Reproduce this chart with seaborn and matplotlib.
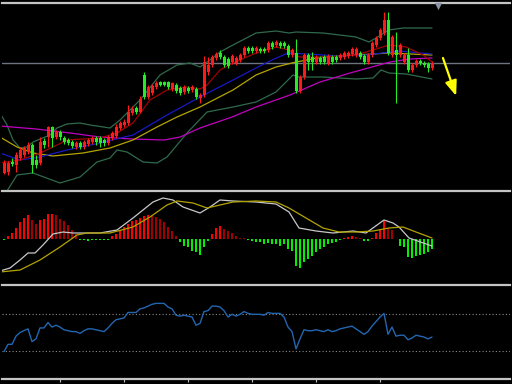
import numpy as np
import pandas as pd
import matplotlib
matplotlib.use("Agg")
import matplotlib.pyplot as plt
import seaborn as sns

# ---- candles (bar 0..107), price units ----
opens = [27, 28, 38, 35, 42, 45, 48, 55, 40, 37,
         59, 63, 73, 63, 68, 62, 60, 58, 53, 57,
         53, 56, 58, 62, 62, 60, 57, 62, 64, 72,
         75, 77, 87, 92, 88, 125, 103, 107, 113, 118,
         118, 118, 111, 115, 112, 108, 112, 110, 111, 102,
         105, 128, 135, 142, 147, 143, 141, 138, 137, 140,
         145, 152, 152, 149, 151, 151, 150, 157, 155, 157,
         157, 154, 145, 147, 109, 123, 145, 143, 138, 142,
         143, 137, 143, 143, 142, 143, 144, 146, 145, 147,
         144, 138, 145, 155, 162, 167, 180, 145, 150, 145,
         138, 145, 130, 135, 139, 137, 136, 132]
highs = [40, 39, 42, 48, 53, 54, 58, 57, 45, 63,
         62, 74, 74, 70, 70, 64, 62, 60, 59, 59,
         60, 62, 64, 64, 64, 62, 65, 69, 76, 79,
         81, 95, 94, 94, 104, 128, 115, 116, 119, 119,
         119, 119, 118, 117, 114, 115, 114, 115, 113, 107,
         144, 143, 145, 148, 150, 145, 143, 146, 144, 147,
         154, 154, 154, 154, 153, 153, 159, 159, 160, 159,
         159, 156, 152, 161, 125, 147, 147, 148, 145, 144,
         145, 146, 145, 145, 147, 149, 149, 153, 153, 149,
         146, 147, 159, 164, 172, 188, 188, 165, 168, 157,
         147, 152, 137, 141, 141, 139, 138, 139]
lows = [26, 25, 34, 28, 40, 43, 46, 27, 32, 35,
        52, 53, 53, 61, 60, 56, 55, 52, 51, 51,
        51, 54, 56, 55, 53, 54, 55, 60, 62, 70,
        73, 75, 85, 86, 87, 101, 101, 105, 111, 114,
        114, 111, 109, 107, 105, 106, 107, 108, 101, 97,
        103, 125, 133, 140, 141, 133, 132, 136, 135, 138,
        143, 147, 147, 147, 147, 147, 148, 151, 153, 152,
        152, 143, 143, 107, 107, 121, 130, 130, 136, 136,
        136, 135, 136, 138, 140, 141, 142, 144, 143, 141,
        136, 136, 143, 153, 160, 165, 145, 143, 97, 143,
        136, 128, 128, 133, 135, 133, 128, 130]
closes = [37, 37, 36, 45, 50, 52, 55, 35, 35, 58,
          55, 73, 62, 68, 63, 58, 57, 54, 57, 53,
          58, 60, 62, 58, 57, 57, 63, 67, 73, 77,
          78, 88, 91, 88, 101, 103, 113, 114, 117, 115,
          115, 113, 117, 109, 107, 113, 109, 113, 103, 105,
          138, 135, 143, 146, 143, 135, 134, 144, 142, 145,
          152, 149, 149, 152, 149, 149, 157, 153, 158, 154,
          154, 145, 150, 109, 123, 145, 138, 138, 143, 138,
          138, 144, 138, 140, 145, 147, 147, 151, 151, 143,
          138, 145, 157, 162, 170, 180, 147, 163, 145, 155,
          145, 130, 135, 139, 137, 135, 132, 137]

# ---- moving averages / bands (bar position, price) ----
ma_red_x = [-1, 4, 9, 12.25, 15.75, 24, 28.25, 32.25, 36.5, 40.75, 45.75, 49, 50.75,
            54, 57.25, 63, 68, 71.25, 73.75, 79.75, 88, 92.25, 96.25, 100.5, 104.75, 107]
ma_red_y = [37, 40, 47, 53, 60, 62, 67, 77, 100, 110, 113, 111, 115,
            130, 137, 147, 153, 150, 143, 143, 145, 150, 155, 153, 145, 138]
ma_blue_x = [-1, 4, 9, 15.75, 24, 32.25, 40.75, 49, 57.25, 63, 67, 71, 75.5, 83.75, 90.5, 98.75, 107]
ma_blue_y = [47, 40, 43, 50, 57, 65, 85, 103, 120, 132, 140, 147, 146, 144, 145, 149, 146]
ma_yellow_x = [-1, 3.25, 7.25, 12.25, 19.75, 26.5, 32.25, 38.25, 43.25, 49, 57.25,
               63, 68, 73, 79.75, 88, 96.25, 107]
ma_yellow_y = [63, 53, 47, 44, 47, 52, 60, 73, 83, 93, 110, 125, 133, 138, 143, 145, 147, 145]
ma_purple_x = [-1, 8, 16.5, 24, 32, 40, 44, 49, 57, 63, 71.5, 79, 86.5, 96.5, 101.5, 107]
ma_purple_y = [74, 71, 67, 63, 61, 60, 63, 72, 83, 93, 105, 118, 127, 138, 141, 142]
bb_up_x = [-1, 0.75, 2.25, 4, 5.75, 7.25, 11.5, 13.25, 15.75, 19, 21.5, 26.5, 29, 34, 39,
           43.25, 46.5, 49, 51.5, 54, 57.25, 63, 68, 71.25, 73, 79.75, 88, 91.25, 93,
           96.25, 99.75, 107]
bb_up_y = [87, 75, 60, 52, 53, 58, 65, 72, 76, 77, 75, 72, 80, 100, 125,
           135, 137, 133, 140, 148, 155, 167, 169, 167, 168, 167, 163, 158, 162,
           170, 172, 172]
bb_lo_x = [0.75, 3.25, 7.25, 14, 19, 23.25, 26.5, 28.25, 30.75, 34.75, 38.25, 40.75,
           45.75, 50.75, 57.25, 63, 68, 72.25, 73.75, 79.75, 88, 92.25, 94.25, 96.25,
           100.5, 107]
bb_lo_y = [9, 25, 27, 17, 23, 38, 42, 50, 48, 38, 37, 43,
           67, 88, 93, 98, 108, 125, 123, 123, 121, 122, 130, 127, 126, 121]
level_price = 137

# ---- MACD panel ----
macd_hist = [-1, 2.7, 6, 11, 17, 21, 24, 19, 15, 19,
             20, 25, 25, 24, 20, 18, 14, 9, 5, -1,
             -1, -1.5, -1, -1, -1, -1, -0.5, 2.7, 5, 8,
             12, 15, 18, 19, 21, 23, 24, 23, 22, 20,
             17, 12, 8, 3, -3, -7, -8, -12, -13, -16,
             -8, -2, 5, 11, 13, 10, 8, 6, 3, 1.3,
             1, -1, -1.5, -2.5, -3, -5, -4, -5, -5, -7,
             -5, -10, -12, -27, -29, -23, -20, -17, -13, -10,
             -8, -5, -4, -3, -1, 1, 2, 3, 2, 1,
             -1.7, -2.3, 1, 6, 10, 18, 11, 9, 0, -7,
             -8, -18, -19, -17, -16, -15, -13, -10]
macd_x = [-1, 1.5, 4, 6, 7.75, 9.75, 12.25, 14.75, 17.25, 24, 28.25, 32.25, 34.75, 37.25,
          39.75, 42.25, 44.75, 49, 51.5, 54, 57.25, 63, 68, 71.25, 73.75, 78, 82.25,
          87.25, 90.5, 95, 97.25, 98.75, 101.25, 107]
macd_y = [-32, -29, -21, -14, -14, -6, 5, 7, 6, 6, 9, 21, 29, 37,
          41, 39, 32, 26, 32, 39, 38, 37, 35, 27, 11, 8, 6,
          8, 6, 19, 16, 12, 1, -7]
signal_x = [-1, 4, 9, 14, 18.25, 20.75, 26.5, 32.25, 36.5, 40.75, 43.25, 47.25, 50.75,
            54, 57.25, 63, 68, 71.25, 75.5, 79.75, 83.75, 88, 92.25, 96.25, 99.75, 103, 107]
signal_y = [-33, -31, -21, -8, 4, 6, 6, 12, 22, 34, 38, 36, 31,
            34, 37, 38, 37, 31, 21, 11, 7, 7, 8, 11, 12, 7, 1]

# ---- RSI panel ----
rsi = [29, 37, 37, 46, 50, 52, 54, 40, 43, 55,
       55, 61, 56, 58, 56, 53, 52, 51, 51, 49,
       52, 54, 54, 53, 52, 51, 55, 60, 64, 65,
       66, 72, 72, 72, 76, 77, 79, 81, 82, 82,
       82, 78, 76, 69, 68, 69, 68, 67, 58, 60,
       73, 74, 79, 79, 78, 74, 67, 70, 68, 70,
       73, 71, 70, 70, 70, 69, 72, 71, 71, 71,
       67, 56, 51, 32, 43, 53, 52, 52, 53, 52,
       51, 53, 51, 52, 54, 55, 56, 57, 54, 51,
       48, 51, 57, 62, 67, 71, 48, 56, 46, 47,
       47, 42, 44, 47, 46, 45, 43, 45]
rsi_levels = [30, 70]
time_ticks = [14, 30, 46, 62, 78, 94]

df = pd.DataFrame({"open": opens, "high": highs, "low": lows, "close": closes,
                   "hist": macd_hist, "rsi": rsi})
df["bar"] = np.arange(len(df))

sns.set_style("dark")
plt.rcParams["axes.facecolor"] = "black"
plt.rcParams["figure.facecolor"] = "black"
plt.rcParams["patch.edgecolor"] = "none"

fig = plt.figure(figsize=(5.12, 3.84), dpi=100)


def panel(top, bot):
    ax = fig.add_axes([2 / 512, 1 - bot / 384, 508 / 512, (bot - top) / 384])
    ax.set_facecolor("black")
    ax.grid(False)
    for s in ["left", "right", "bottom"]:
        ax.spines[s].set_visible(False)
    ax.spines["top"].set_color("#c4c4c4")
    ax.spines["top"].set_linewidth(1.6)
    ax.set_xlim(-0.5, 126.5)
    ax.set_xticks([])
    ax.set_yticks([])
    return ax


ax_main = panel(3, 190)
ax_macd = panel(191, 284)
ax_rsi = panel(285, 379)
ax_main.set_ylim(10, 197)
ax_macd.set_ylim(-45, 48)
ax_rsi.set_ylim(-1.1, 102.2)

# main panel lines
for xs, ys, col in [(bb_up_x, bb_up_y, "#2f6a4c"), (bb_lo_x, bb_lo_y, "#2f6a4c"),
                    (ma_purple_x, ma_purple_y, "#c000c0"), (ma_yellow_x, ma_yellow_y, "#b4a400"),
                    (ma_blue_x, ma_blue_y, "#1818c8"), (ma_red_x, ma_red_y, "#a00000")]:
    sns.lineplot(x=xs, y=ys, ax=ax_main, color=col, lw=0.9, zorder=2)
ax_main.axhline(level_price, color="#6c7480", lw=1.0, zorder=1)

up = df["close"] >= df["open"]
cols = np.where(up, "#ff1a1a", "#22ee22")
ax_main.vlines(df["bar"], df["low"], df["high"], colors=cols, lw=0.8, zorder=3)
body = (df["close"] - df["open"]).abs().clip(lower=0.8)
ax_main.bar(df["bar"], body, bottom=df[["open", "close"]].min(axis=1),
            width=0.75, color=cols, linewidth=0, edgecolor="none", zorder=4)

# shift marker and drawn arrow
ax_main.scatter([0.858], [0.985], marker="v", s=28, color="#8a96a8", linewidths=0,
                transform=ax_main.transAxes, clip_on=False, zorder=5)
ax_main.annotate("", xy=(0.894, 0.503), xytext=(0.868, 0.706), xycoords="axes fraction",
                 arrowprops=dict(arrowstyle="-|>,head_length=0.9,head_width=0.35",
                                 color="#ffff00", lw=1.6, shrinkA=0, shrinkB=0))

# MACD panel
h = df["hist"]
prev = h.shift(1).fillna(h)
hcols = np.where(h >= 0, np.where(h >= prev, "#ff0000", "#a00000"), "#00f000")
hh = h.where(h.abs() > 0.6, np.sign(h) * 0.6)
ax_macd.bar(df["bar"], hh, width=0.5, color=hcols, linewidth=0, edgecolor="none", zorder=2)
sns.lineplot(x=macd_x, y=macd_y, ax=ax_macd, color="#c8c8c8", lw=0.9, zorder=3)
sns.lineplot(x=signal_x, y=signal_y, ax=ax_macd, color="#b4a400", lw=0.9, zorder=3)

# RSI panel
for lv in rsi_levels:
    ax_rsi.axhline(lv, color="#8a8a8a", lw=0.8, ls=(0, (1, 2)))
sns.lineplot(data=df, x="bar", y="rsi", ax=ax_rsi, color="#2366b0", lw=1.0)
ax_rsi.spines["bottom"].set_visible(True)
ax_rsi.spines["bottom"].set_color("#c4c4c4")
ax_rsi.spines["bottom"].set_linewidth(1.6)
ax_rsi.set_xticks(time_ticks)
ax_rsi.set_xticklabels([])
ax_rsi.tick_params(axis="x", direction="out", length=2.5, width=0.8, color="#c4c4c4",
                   bottom=True)

for ax in (ax_main, ax_macd, ax_rsi):
    ax.set_xlabel("")
    ax.set_ylabel("")
    ax.set_xlim(-0.5, 126.5)

fig.savefig("out.png", dpi=100, facecolor="black")
